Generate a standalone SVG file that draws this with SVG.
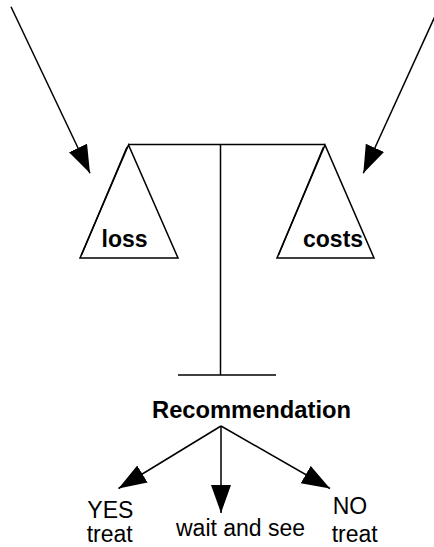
<svg xmlns="http://www.w3.org/2000/svg" width="434" height="547" viewBox="0 0 434 547">
  <defs>
    <marker id="head" markerUnits="userSpaceOnUse" markerWidth="30" markerHeight="22" refX="28" refY="10" orient="auto">
      <path d="M0,0 L28,10 L0,20 Z" fill="#000"/>
    </marker>
    <style>
      .ln { stroke: #000; stroke-width: 1.5; fill: none; }
      .pan { stroke: #000; stroke-width: 1.5; fill: #fff; stroke-linejoin: miter; }
      .arrow { stroke: #000; stroke-width: 1.5; fill: none; marker-end: url(#head); }
      .bold { font-family: "Liberation Sans", Arial, sans-serif; font-weight: bold; font-size: 23px; fill: #000; }
      .reg { font-family: "Liberation Sans", Arial, sans-serif; font-size: 23px; fill: #000; }
    </style>
  </defs>
  <rect width="434" height="547" fill="#fff"/>

  <!-- balance: beam, post and foot -->
  <g id="balance">
    <line class="ln" x1="128.5" y1="144.5" x2="325" y2="144.5"/>
    <line class="ln" x1="220.5" y1="144.5" x2="220.5" y2="375"/>
    <line class="ln" x1="178" y1="375" x2="276" y2="375"/>
  </g>

  <!-- left pan -->
  <g id="pan-loss">
    <path class="pan" d="M128.5,145 L80,258 L178,258 Z"/>
    <line class="ln" x1="127" y1="147" x2="81.5" y2="255" stroke-width="1"/>
    <text class="bold" x="101.5" y="247.3">loss</text>
  </g>

  <!-- right pan -->
  <g id="pan-costs">
    <path class="pan" d="M325,145 L277,258 L374,258 Z"/>
    <line class="ln" x1="323.5" y1="147" x2="278.5" y2="255" stroke-width="1"/>
    <text class="bold" x="303" y="246.7">costs</text>
  </g>

  <g id="recommendation">
    <text class="bold" x="152" y="418.3" textLength="199" lengthAdjust="spacingAndGlyphs">Recommendation</text>
  </g>

  <g id="opt-yes">
    <text class="reg" x="87.3" y="517.5">YES</text>
    <text class="reg" x="86.7" y="542">treat</text>
  </g>

  <g id="opt-wait">
    <text class="reg" x="176" y="536">wait and see</text>
  </g>

  <g id="opt-no">
    <text class="reg" x="332.7" y="514">NO</text>
    <text class="reg" x="331.7" y="541.5">treat</text>
  </g>

  <!-- connectors -->
  <g id="connectors">
    <line class="arrow" x1="11" y1="6.7" x2="90" y2="173.3"/>
    <line class="arrow" x1="436" y1="14" x2="363.3" y2="173.3"/>
    <line class="arrow" x1="221" y1="426" x2="118.5" y2="488.5"/>
    <line class="arrow" x1="221" y1="426" x2="221" y2="513"/>
    <line class="arrow" x1="221" y1="426" x2="330" y2="488.5"/>
  </g>
</svg>
